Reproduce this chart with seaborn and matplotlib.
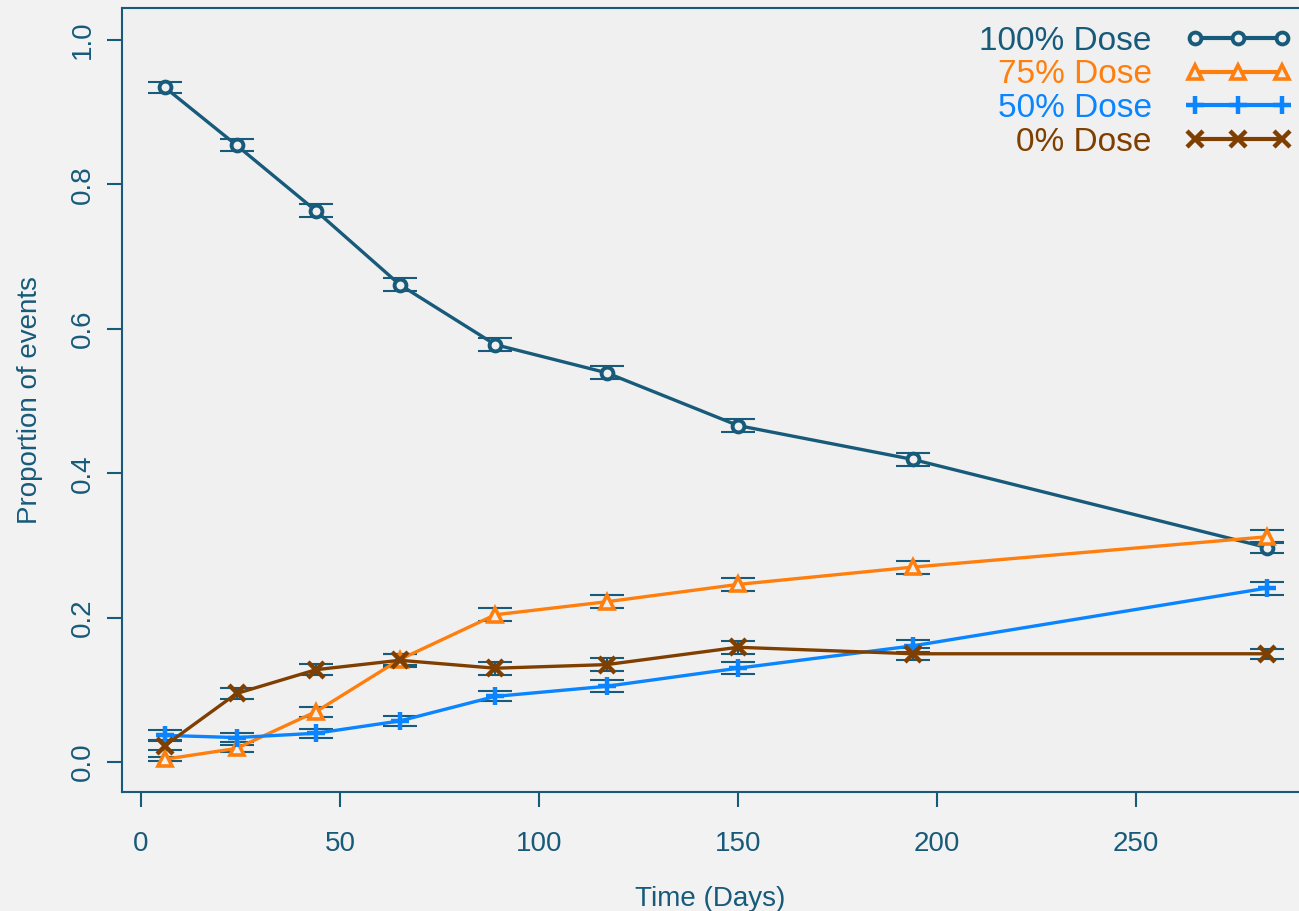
import numpy as np
import pandas as pd
import seaborn as sns
import matplotlib.pyplot as plt
from matplotlib.lines import Line2D

# dados
dias = [6, 24, 44, 65, 89, 117, 150, 194, 283]
dose100 = [0.934, 0.854, 0.763, 0.661, 0.578, 0.539, 0.466, 0.419, 0.297]
dose75 = [0.004, 0.019, 0.070, 0.142, 0.204, 0.222, 0.246, 0.270, 0.312]
dose50 = [0.037, 0.034, 0.040, 0.057, 0.091, 0.105, 0.130, 0.161, 0.241]
dose0 = [0.023, 0.095, 0.128, 0.141, 0.130, 0.135, 0.159, 0.150, 0.150]
erro100 = [0.007, 0.008, 0.009, 0.009, 0.009, 0.009, 0.009, 0.009, 0.008]
erro75 = [0.003, 0.005, 0.007, 0.008, 0.009, 0.009, 0.009, 0.009, 0.009]
erro50 = [0.007, 0.006, 0.006, 0.007, 0.007, 0.008, 0.008, 0.008, 0.009]
erro0 = [0.006, 0.007, 0.008, 0.009, 0.009, 0.009, 0.009, 0.008, 0.007]
nomes = ["100% Dose", "75% Dose", "50% Dose", "0% Dose"]

fundo = "#f0f0f0"
azul_esc = "#175a7a"
cores = [azul_esc, "#ff7f0e", "#0a84ff", "#7f3f00"]
marcadores = ["o", "^", "+", "x"]
tamanhos = [8.5, 10, 13, 12]
espessuras = [2.8, 2.6, 3.2, 3.2]

df = pd.DataFrame({
    "dia": dias * 4,
    "prop": dose100 + dose75 + dose50 + dose0,
    "erro": erro100 + erro75 + erro50 + erro0,
    "dose": sum([[n] * len(dias) for n in nomes], []),
})

sns.set_style("white")
plt.rcParams["font.family"] = ["Liberation Sans", "DejaVu Sans"]

fig = plt.figure(figsize=(12.99, 9.11), dpi=100, facecolor="#f2f2f2")
ax = fig.add_axes([0.0939, 0.1306, 0.9061, 0.8606])
ax.set_facecolor(fundo)

# barras de erro atras das linhas
for n in nomes:
    d = df[df["dose"] == n]
    ax.errorbar(d["dia"], d["prop"], yerr=d["erro"], fmt="none", ecolor=azul_esc,
                elinewidth=1.5, capsize=12, capthick=1.5, zorder=2)

for n, c, m, s, w in zip(nomes, cores, marcadores, tamanhos, espessuras):
    d = df[df["dose"] == n]
    sns.lineplot(data=d, x="dia", y="prop", color=c, linewidth=2.4, marker=m,
                 markersize=s, markeredgewidth=w, markeredgecolor=c,
                 markerfacecolor=fundo, ax=ax, zorder=3, legend=False)

ax.set_xlim(-4.8, 291)
ax.set_ylim(-0.0414, 1.044)
ax.set_xticks([0, 50, 100, 150, 200, 250])
ax.set_yticks([0.0, 0.2, 0.4, 0.6, 0.8, 1.0])
ax.set_yticklabels(["0.0", "0.2", "0.4", "0.6", "0.8", "1.0"], rotation=90, va="center")
ax.tick_params(axis="both", colors=azul_esc, labelcolor=azul_esc, labelsize=20,
               length=11, width=1.5, direction="out", bottom=True, left=True)
ax.tick_params(axis="x", pad=17)
ax.tick_params(axis="y", pad=8)
ax.set_xlabel("Time (Days)", fontsize=20, color=azul_esc, labelpad=21)
ax.set_ylabel("Proportion of events", fontsize=20, color=azul_esc, labelpad=19)
for lado in ["left", "bottom", "top"]:
    ax.spines[lado].set_color(azul_esc)
    ax.spines[lado].set_linewidth(1.5)
ax.spines["right"].set_visible(False)

# legenda: texto a esquerda, simbolos a direita
alcas = [Line2D([0], [0], color=c, marker=m, markersize=s, markeredgewidth=w,
                markerfacecolor=fundo, linewidth=3)
         for c, m, s, w in zip(cores, marcadores, tamanhos, espessuras)]
leg = ax.legend(alcas, nomes, loc="upper right", frameon=False, markerfirst=False,
                numpoints=3, handlelength=3.2, fontsize=24, labelcolor=cores,
                labelspacing=0.08, handletextpad=1.0, borderaxespad=0.0,
                bbox_to_anchor=(1.005, 0.9945))

fig.savefig("out.png", dpi=100, facecolor=fig.get_facecolor())
